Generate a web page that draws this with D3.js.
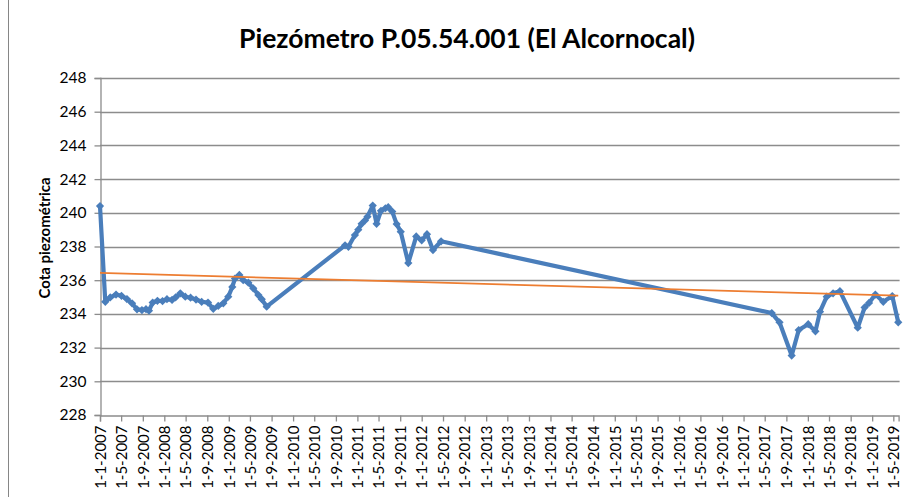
<!DOCTYPE html>
<html>
<head>
<meta charset="utf-8">
<script src="https://cdn.jsdelivr.net/npm/d3@7"></script>
<style>
  body { margin: 0; background: #fff; }
  svg { display: block; }
</style>
</head>
<body>
<script>
// Piezometric level readings (date, level in m)
const dates = [
  "2007-01-01","2007-01-31","2007-02-28","2007-04-02","2007-05-03","2007-06-03",
  "2007-07-02","2007-07-30","2007-08-27","2007-09-19","2007-10-06","2007-10-27",
  "2007-11-23","2007-12-22","2008-01-16","2008-02-14","2008-03-05","2008-04-01",
  "2008-04-29","2008-05-29","2008-06-29","2008-07-31","2008-09-05","2008-10-05",
  "2008-11-02","2008-12-01","2008-12-29","2009-01-21","2009-02-05","2009-03-02",
  "2009-03-24","2009-04-22","2009-05-20","2009-06-18","2009-07-07","2009-08-04",
  "2010-10-23","2010-11-11","2010-12-18","2011-01-06","2011-01-25","2011-02-13",
  "2011-02-27","2011-03-29","2011-04-20","2011-05-15","2011-06-09","2011-06-25",
  "2011-07-18","2011-08-12","2011-09-04","2011-10-17","2011-12-01","2012-01-01",
  "2012-01-31","2012-03-05","2012-04-20",
  "2017-06-10","2017-07-24","2017-10-01","2017-11-10","2018-01-03","2018-02-13",
  "2018-03-11","2018-04-18","2018-05-24","2018-07-02","2018-10-11","2018-11-19",
  "2018-12-14","2019-01-19","2019-03-05","2019-04-25","2019-05-29"
];
const levels = [
  240.40, 234.72, 234.98, 235.15, 235.07, 234.88,
  234.63, 234.27, 234.23, 234.28, 234.19, 234.67,
  234.78, 234.76, 234.87, 234.83, 234.98, 235.22,
  235.02, 234.96, 234.85, 234.72, 234.67, 234.30,
  234.47, 234.63, 235.02, 235.60, 236.10, 236.31,
  236.00, 235.85, 235.52, 235.12, 234.87, 234.43,
  238.07, 237.98, 238.68, 239.00, 239.35, 239.55,
  239.77, 240.43, 239.35, 240.12, 240.27, 240.33,
  240.07, 239.33, 238.88, 237.02, 238.60, 238.37,
  238.73, 237.79, 238.31,
  234.05, 233.50, 231.53, 233.04, 233.39, 232.97,
  234.13, 235.02, 235.22, 235.35, 233.18, 234.38,
  234.65, 235.15, 234.72, 235.06, 233.50
];

// Linear trend line end points
const trendDates = ["2007-01-01", "2019-05-29"];
const trendLevels = [236.43, 235.08];

// Axis ticks
const yTicks = [228, 230, 232, 234, 236, 238, 240, 242, 244, 246, 248];
const xDomain = ["2007-01-01", "2019-05-31"];

const title = "Piezómetro P.05.54.001 (El Alcornocal)";
const yLabel = "Cota piezométrica";

const W = 904, H = 497;
const parse = d3.timeParse("%Y-%m-%d");
const fmt = d3.timeFormat("%-d-%-m-%Y");

const series = dates.map((d, i) => ({ date: parse(d), value: levels[i] }));
const trend = trendDates.map((d, i) => ({ date: parse(d), value: trendLevels[i] }));

const plot = { left: 100, right: 898.6, top: 78, bottom: 415 };

const x = d3.scaleTime().domain(xDomain.map(parse)).range([plot.left, plot.right]);
const y = d3.scaleLinear().domain([228, 248]).range([plot.bottom, plot.top]);

const svg = d3.select("body").append("svg").attr("width", W).attr("height", H);

svg.append("rect").attr("width", W).attr("height", H).attr("fill", "#fff");

// chart area frame
svg.append("rect")
  .attr("x", 8.5).attr("y", -2).attr("width", W + 10).attr("height", H + 10)
  .attr("fill", "none").attr("stroke", "#868686").attr("stroke-width", 1);

const font = "Lato, 'Open Sans', sans-serif";

// title
svg.append("text")
  .attr("x", 467).attr("y", 48)
  .attr("text-anchor", "middle")
  .attr("font-family", font).attr("font-weight", 700).attr("font-size", 26.5)
  .attr("fill", "#000")
  .text(title);

// horizontal gridlines
svg.append("g").selectAll("line").data(yTicks.slice(1)).join("line")
  .attr("x1", plot.left).attr("x2", plot.right + 1)
  .attr("y1", d => Math.round(y(d)) + 0.5).attr("y2", d => Math.round(y(d)) + 0.5)
  .attr("stroke", "#8c8c8c").attr("stroke-width", 1.3);

// y axis
const yAxis = svg.append("g")
  .attr("transform", `translate(${plot.left + 0.5},0)`)
  .call(d3.axisLeft(y).tickValues(yTicks).tickSize(6).tickPadding(8).tickFormat(d3.format("d")));
yAxis.select(".domain").attr("stroke", "#8c8c8c").attr("stroke-width", 1.3);
yAxis.selectAll(".tick line").attr("stroke", "#8c8c8c").attr("stroke-width", 1.3);
yAxis.selectAll("text").attr("font-family", font).attr("font-size", 15.5).attr("fill", "#000");

// x axis
const xAxis = svg.append("g")
  .attr("transform", `translate(0,${Math.round(plot.bottom) + 0.5})`)
  .call(d3.axisBottom(x).ticks(d3.timeMonth.every(4)).tickSize(6).tickFormat(fmt));
xAxis.select(".domain").attr("stroke", "#8c8c8c").attr("stroke-width", 1.3);
xAxis.selectAll(".tick line").attr("stroke", "#8c8c8c").attr("stroke-width", 1.3);
xAxis.selectAll("text")
  .attr("font-family", font).attr("font-size", 15).attr("fill", "#000")
  .attr("transform", "rotate(-90)")
  .attr("text-anchor", "end")
  .attr("x", -10).attr("y", 0).attr("dy", "0.35em");

// y label
svg.append("text")
  .attr("transform", "translate(50,238) rotate(-90)")
  .attr("text-anchor", "middle")
  .attr("font-family", font).attr("font-weight", 700).attr("font-size", 15)
  .attr("fill", "#000")
  .text(yLabel);

// series line
const line = d3.line().x(d => x(d.date)).y(d => y(d.value));
svg.append("path").datum(series)
  .attr("d", line)
  .attr("fill", "none").attr("stroke", "#4a7ebb").attr("stroke-width", 4.2)
  .attr("stroke-linejoin", "round");

// diamond markers
svg.append("g").selectAll("path").data(series).join("path")
  .attr("d", d3.symbol(d3.symbolSquare, 34))
  .attr("transform", d => `translate(${x(d.date)},${y(d.value)}) rotate(45)`)
  .attr("fill", "#4a7ebb");

// trend line
svg.append("path").datum(trend)
  .attr("d", line)
  .attr("fill", "none").attr("stroke", "#ed7d31").attr("stroke-width", 1.8);
</script>
</body>
</html>
